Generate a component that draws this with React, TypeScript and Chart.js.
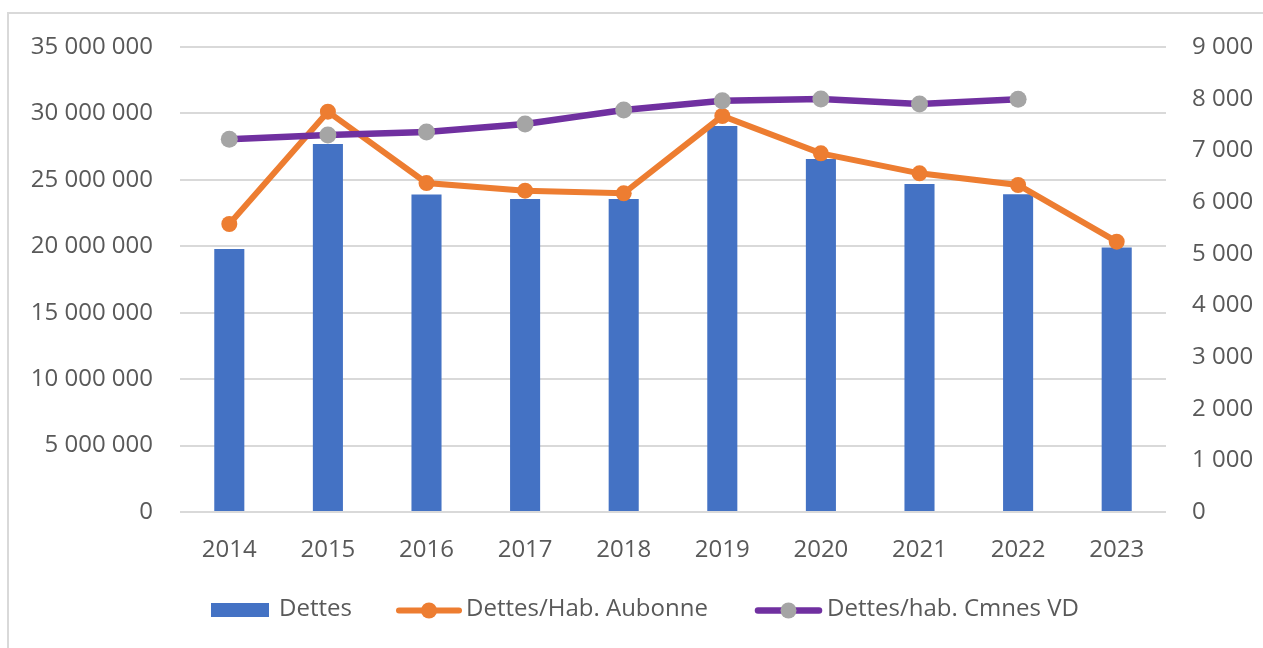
import React, { useEffect, useRef } from "react";
import { Chart, registerables } from "chart.js";

Chart.register(...registerables);

const categories = ["2014", "2015", "2016", "2017", "2018", "2019", "2020", "2021", "2022", "2023"];
const dettes = [19800000, 27700000, 23900000, 23560000, 23560000, 29050000, 26570000, 24690000, 23910000, 19900000];
const dettesHabAubonne = [5574, 7748, 6367, 6219, 6168, 7664, 6942, 6555, 6329, 5232];
const dettesHabCmnesVD = [7213, 7297, 7355, 7509, 7780, 7961, 7993, 7897, 7987, null];
const seriesLabels = ["Dettes", "Dettes/Hab. Aubonne", "Dettes/hab. Cmnes VD"];

const FONT = "'Open Sans', sans-serif";
const TEXT = "#595959";
const GRID = "#D9D9D9";
const BLUE = "#4472C4";
const ORANGE = "#ED7D31";
const PURPLE = "#7030A0";
const GRAY = "#A5A5A5";

const fmt = (v: number) =>
  Math.round(v).toString().replace(/\B(?=(\d{3})+(?!\d))/g, " ");

const legendPlugin = {
  id: "customLegend",
  afterDraw(chart: any) {
    const ctx = chart.ctx;
    const ds = chart.data.datasets;
    const layout = [
      { symX: 211, symW: 58, textX: 279 },
      { symX: 396, symW: 66, textX: 466 },
      { symX: 755, symW: 67, textX: 827 },
    ];
    const cy = 610.5;
    ctx.save();
    ctx.font = `24px ${FONT}`;
    ctx.textBaseline = "middle";
    ctx.textAlign = "left";
    ds.forEach((d: any, i: number) => {
      const l = layout[i];
      if (d.type === "bar") {
        ctx.fillStyle = d.backgroundColor;
        ctx.fillRect(l.symX, cy - 7.5, l.symW, 14);
      } else {
        ctx.strokeStyle = d.borderColor;
        ctx.lineWidth = d.borderWidth;
        ctx.lineCap = "round";
        ctx.beginPath();
        ctx.moveTo(l.symX + 3, cy);
        ctx.lineTo(l.symX + l.symW - 3, cy);
        ctx.stroke();
        ctx.fillStyle = d.pointBackgroundColor;
        ctx.beginPath();
        ctx.arc(l.symX + l.symW / 2, cy, 8, 0, Math.PI * 2);
        ctx.fill();
      }
      ctx.fillStyle = TEXT;
      ctx.fillText(d.label, l.textX, cy - 1);
    });
    ctx.restore();
  },
};

export default function App() {
  const ref = useRef<HTMLCanvasElement | null>(null);

  useEffect(() => {
    if (!ref.current) return;
    const chart = new Chart(ref.current, {
      type: "bar",
      data: {
        labels: categories,
        datasets: [
          {
            type: "bar",
            label: seriesLabels[0],
            data: dettes,
            backgroundColor: BLUE,
            borderWidth: 0,
            yAxisID: "y",
            barPercentage: 0.305,
            categoryPercentage: 1,
            order: 3,
          },
          {
            type: "line",
            label: seriesLabels[1],
            data: dettesHabAubonne,
            borderColor: ORANGE,
            backgroundColor: ORANGE,
            pointBackgroundColor: ORANGE,
            pointBorderColor: ORANGE,
            borderWidth: 6,
            pointRadius: 8,
            pointBorderWidth: 0,
            tension: 0,
            yAxisID: "y1",
            order: 2,
          },
          {
            type: "line",
            label: seriesLabels[2],
            data: dettesHabCmnesVD,
            borderColor: PURPLE,
            backgroundColor: PURPLE,
            pointBackgroundColor: GRAY,
            pointBorderColor: GRAY,
            borderWidth: 6.5,
            pointRadius: 8.5,
            pointBorderWidth: 0,
            tension: 0,
            spanGaps: false,
            yAxisID: "y1",
            order: 1,
          },
        ] as any,
      },
      options: {
        responsive: false,
        animation: false,
        devicePixelRatio: 1,
        layout: { padding: { top: 47, left: 0, right: 0, bottom: 0 } },
        plugins: {
          legend: { display: false },
          tooltip: { enabled: false },
          title: { display: false },
        },
        scales: {
          x: {
            grid: { display: false },
            border: { display: false },
            ticks: {
              color: TEXT,
              font: { family: FONT, size: 24 },
              padding: 16,
              maxRotation: 0,
            },
            afterFit: (s: any) => {
              s.height = 136;
            },
          },
          y: {
            position: "left",
            min: 0,
            max: 35000000,
            grid: { color: GRID, lineWidth: 2, drawTicks: false },
            border: { display: false },
            ticks: {
              stepSize: 5000000,
              color: TEXT,
              font: { family: FONT, size: 24 },
              padding: 27,
              callback: (v: any) => fmt(Number(v)),
            },
            afterFit: (s: any) => {
              s.width = 180;
            },
          },
          y1: {
            position: "right",
            min: 0,
            max: 9000,
            grid: { display: false, drawTicks: false },
            border: { display: false },
            ticks: {
              stepSize: 1000,
              color: TEXT,
              font: { family: FONT, size: 24 },
              padding: 26,
              callback: (v: any) => fmt(Number(v)),
            },
            afterFit: (s: any) => {
              s.width = 97;
            },
          },
        },
      },
      plugins: [legendPlugin],
    });
    return () => chart.destroy();
  }, []);

  return (
    <div
      style={{
        position: "fixed",
        left: 0,
        top: 0,
        width: 1263,
        height: 648,
        overflow: "hidden",
        background: "#ffffff",
      }}
    >
      <div
        style={{
          position: "absolute",
          left: 7,
          top: 12,
          width: 1400,
          height: 800,
          borderLeft: `2px solid ${GRID}`,
          borderTop: `2px solid ${GRID}`,
        }}
      />
      <canvas
        ref={ref}
        width={1263}
        height={648}
        style={{ position: "absolute", left: 0, top: 0, width: 1263, height: 648 }}
      />
    </div>
  );
}
